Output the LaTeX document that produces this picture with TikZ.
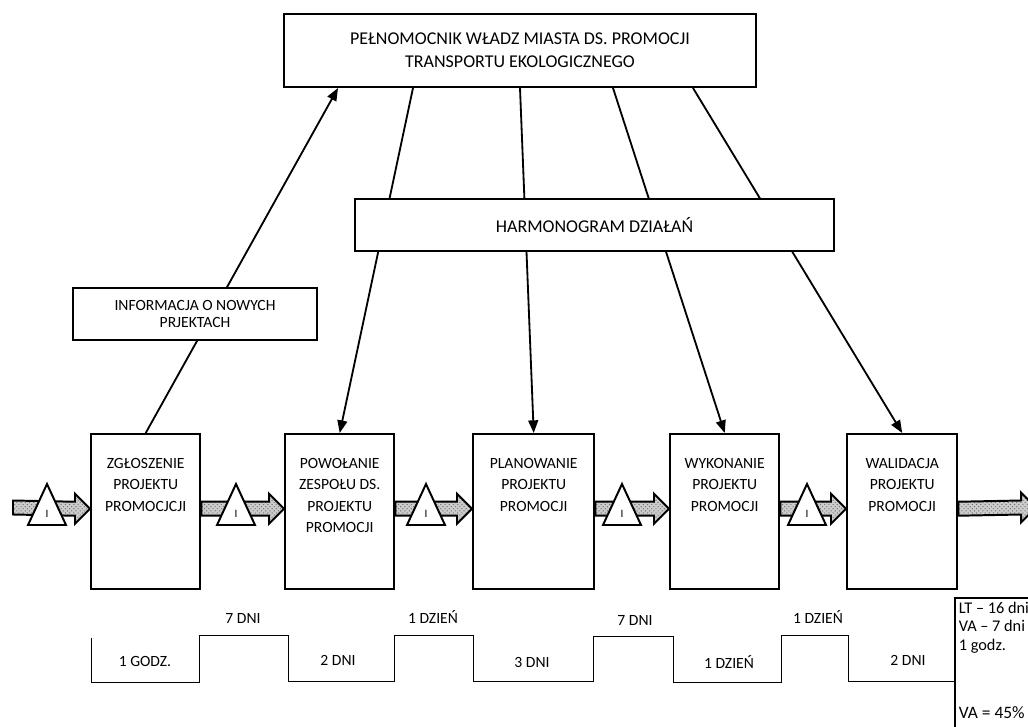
\documentclass[tikz,border=0pt]{standalone}
\usepackage{fontspec}
\setmainfont{Carlito}
\usetikzlibrary{arrows.meta,patterns}

\begin{document}
\begin{tikzpicture}[
   x=0.025cm,y=-0.025cm,
   boxtext/.style={font=\fontsize{12.8}{16.6}\selectfont,align=center},
   smalltext/.style={font=\fontsize{11.1}{15.2}\selectfont},
   head/.style={draw,line width=1.4pt,fill=white,boxtext},
   stage/.style={draw,line width=1.7pt,anchor=north west,minimum width=2.725cm,minimum height=3.875cm,inner sep=0pt},
   stagetext/.style={smalltext,align=center,anchor=north,inner sep=0pt},
   link/.style={line width=1.3pt},
   feed/.style={link,-{Triangle[length=9pt,width=7pt]}},
   push/.style={line width=1.4pt,preaction={fill=black!20},pattern=crosshatch dots,pattern color=black!55},
   stock/.style={line width=1.4pt,fill=white},
   timeline/.style={line width=0.7pt}]
\useasboundingbox (0,0) rectangle (1028,726);
\clip (0,0) rectangle (1028,726);
% boxes
\node[head,minimum width=11.8cm,minimum height=1.825cm] (boss) at (520,50.5) {PEŁNOMOCNIK WŁADZ MIASTA DS. PROMOCJI\\TRANSPORTU EKOLOGICZNEGO};
\node[stage] (z1) at (90,433) {};
\node[stage] (z2) at (284,433) {};
\node[stage,minimum width=3.025cm] (z3) at (472,433) {};
\node[stage] (z4) at (669,433) {};
\node[stage,minimum width=2.75cm] (z5) at (846,433) {};
\node[stagetext] (z1t) at ([shift={(0,25)}]z1.north) {ZGŁOSZENIE\\PROJEKTU\\PROMOCJCJI};
\node[stagetext] (z2t) at ([shift={(0,25)}]z2.north) {POWOŁANIE\\ZESPOŁU DS.\\PROJEKTU\\PROMOCJI};
\node[stagetext] (z3t) at ([shift={(0,25)}]z3.north) {PLANOWANIE\\PROJEKTU\\PROMOCJI};
\node[stagetext] (z4t) at ([shift={(0,25)}]z4.north) {WYKONANIE\\PROJEKTU\\PROMOCJI};
\node[stagetext] (z5t) at ([shift={(0,25)}]z5.north) {WALIDACJA\\PROJEKTU\\PROMOCJI};
% control lines
\draw[feed] ([shift={(-107,0)}]boss.south) -- (z2.north);
\draw[feed] (boss.south) -- (z3.north);
\draw[feed] ([shift={(93,0)}]boss.south) -- (z4.north);
\draw[feed] ([shift={(173,0)}]boss.south) -- (z5.north);
\node[head,minimum width=11.975cm,minimum height=1.3cm] (plan) at (594.5,225) {HARMONOGRAM DZIAŁAŃ};
\draw[feed] (z1.north) -- ([shift={(-182,0)}]boss.south);
\node[head,font=\fontsize{11.1}{12.6}\selectfont,minimum width=6.1cm,minimum height=1.3cm] (info) at (195,314) {INFORMACJA O NOWYCH\\PRJEKTACH};
% push arrows
\node[inner sep=0pt] (src) at (12,510.5) {};
\node[inner sep=0pt] (snk) at (1037,510.5) {};
\foreach \a/\b in {src/z1,z1/z2,z2/z3,z3/z4,z4/z5,z5/snk}
  \draw[push] ([shift={(0,-10)}]\a.east) -- ([shift={(-15,-10)}]\b.west) -- ([shift={(-15,-18)}]\b.west) -- ([shift={(0,-3)}]\b.west) -- ([shift={(-15,12)}]\b.west) -- ([shift={(-15,4)}]\b.west) -- ([shift={(0,4)}]\a.east) -- cycle;
\foreach \x [count=\i] in {47,236,426,622,807} {
  \draw[stock] (\x-19,525) -- (\x,484) -- (\x+19,525) -- cycle;
  \node[font=\fontsize{8}{8}\selectfont,inner sep=0pt] (inv\i) at (\x,514) {I};
}
% time line
\draw[timeline] (91,638) -- (91,682) -- (199,682) -- (199,635) -- (288,635) -- (288,681) -- (394,681) -- (394,635) -- (473,635) -- (473,681) -- (593,681) -- (593,636) -- (673,636) -- (673,682) -- (781,682) -- (781,635) -- (848,635) -- (848,681) -- (954,681);
\node[smalltext] (d1) at (145,661) {1 GODZ.};
\node[smalltext] (d2) at (243,618) {7 DNI};
\node[smalltext] (d3) at (338,660) {2 DNI};
\node[smalltext] (d4) at (433,617) {1 DZIEŃ};
\node[smalltext] (d5) at (532,662) {3 DNI};
\node[smalltext] (d6) at (635,620) {7 DNI};
\node[smalltext] (d7) at (729,662) {1 DZIEŃ};
\node[smalltext] (d8) at (818,617) {1 DZIEŃ};
\node[smalltext] (d9) at (908,660) {2 DNI};
\node[draw,line width=1.4pt,anchor=north west,minimum width=5cm,minimum height=5cm] (sum) at (954,597) {};
\node[anchor=north west,align=left,inner sep=2.5pt,font=\fontsize{11.6}{13.4}\selectfont] (sumt) at ([shift={(1,1)}]sum.north west) {LT – 16 dni\\VA – 7 dni\\1 godz.};
\node[anchor=west,inner sep=2.5pt,font=\fontsize{12.4}{13.4}\selectfont] (va) at (955,713) {VA = 45\%};
\end{tikzpicture}
\end{document}
